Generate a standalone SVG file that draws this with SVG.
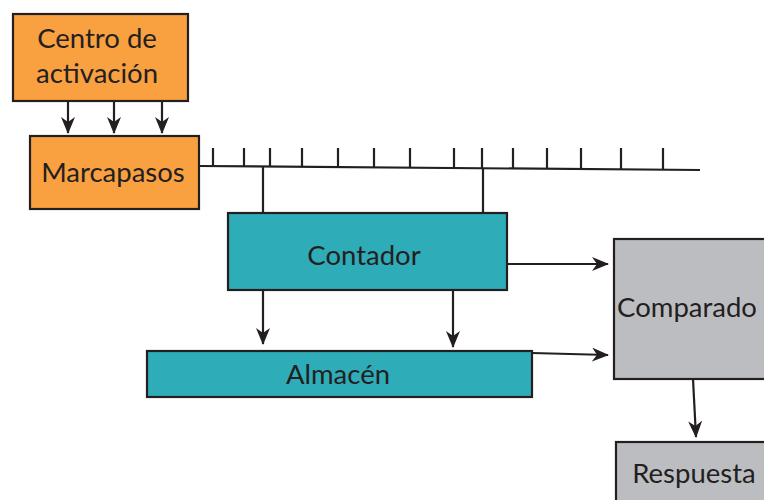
<svg xmlns="http://www.w3.org/2000/svg" width="764" height="500" viewBox="0 0 764 500">
<defs>
<style>
.box{stroke:#231f20;stroke-width:2.2}
.or{fill:#f9a040}
.te{fill:#2eacb8}
.gr{fill:#bcbdc0}
.lbl{font-family:Lato,"Liberation Sans",sans-serif;font-size:27.5px;fill:#231f20;text-anchor:middle}
.ln{stroke:#231f20;stroke-width:2.2;fill:none}
</style>
<marker id="ah" markerWidth="18" markerHeight="14" refX="16" refY="7" orient="auto" markerUnits="userSpaceOnUse">
<path d="M0,0 L17,7 L0,14 L5,7 Z" fill="#231f20"/>
</marker>
</defs>
<rect width="764" height="500" fill="#fff"/>
<g id="centro">
<rect class="box or" x="13" y="14" width="175" height="87"/>
<text class="lbl" x="97" y="48">Centro de</text>
<text class="lbl" x="97" y="83">activación</text>
</g>
<g id="marcapasos">
<rect class="box or" x="30" y="136" width="169" height="73"/>
<text class="lbl" x="113" y="182">Marcapasos</text>
</g>
<g id="contador">
<rect class="box te" x="228" y="213" width="279" height="77"/>
<text class="lbl" x="364" y="265">Contador</text>
</g>
<g id="almacen">
<rect class="box te" x="147" y="351" width="385" height="46"/>
<text class="lbl" x="338" y="384">Almacén</text>
</g>
<g id="comparado">
<rect class="box gr" x="614" y="239" width="160" height="140"/>
<text class="lbl" x="687" y="317">Comparado</text>
</g>
<g id="respuesta">
<rect class="box gr" x="616" y="442" width="160" height="70"/>
<text class="lbl" x="694" y="483">Respuesta</text>
</g>
<g id="connectors">
<path class="ln" d="M68,101 V133" marker-end="url(#ah)"/>
<path class="ln" d="M114,101 V133" marker-end="url(#ah)"/>
<path class="ln" d="M162,101 V133" marker-end="url(#ah)"/>
<path class="ln" d="M199,166 L700,170"/>
<path class="ln" d="M213,148 V166.1 M244,148 V166.4 M270,148 V166.6 M302,148 V166.8 M338,148 V167.1 M374,148 V167.4 M410,148 V167.7 M454,148 V168 M482,148 V168.3 M513,148 V168.5 M547,148 V168.8 M581,148 V169.1 M621,148 V169.4 M663,148 V169.7"/>
<path class="ln" d="M263,166.5 V213 M483,168.3 V213"/>
<path class="ln" d="M263,290 V344" marker-end="url(#ah)"/>
<path class="ln" d="M453,290 V347" marker-end="url(#ah)"/>
<path class="ln" d="M507,264 H608" marker-end="url(#ah)"/>
<path class="ln" d="M532,353 L608,355" marker-end="url(#ah)"/>
<path class="ln" d="M693,379 L696,437" marker-end="url(#ah)"/>
</g>
</svg>
